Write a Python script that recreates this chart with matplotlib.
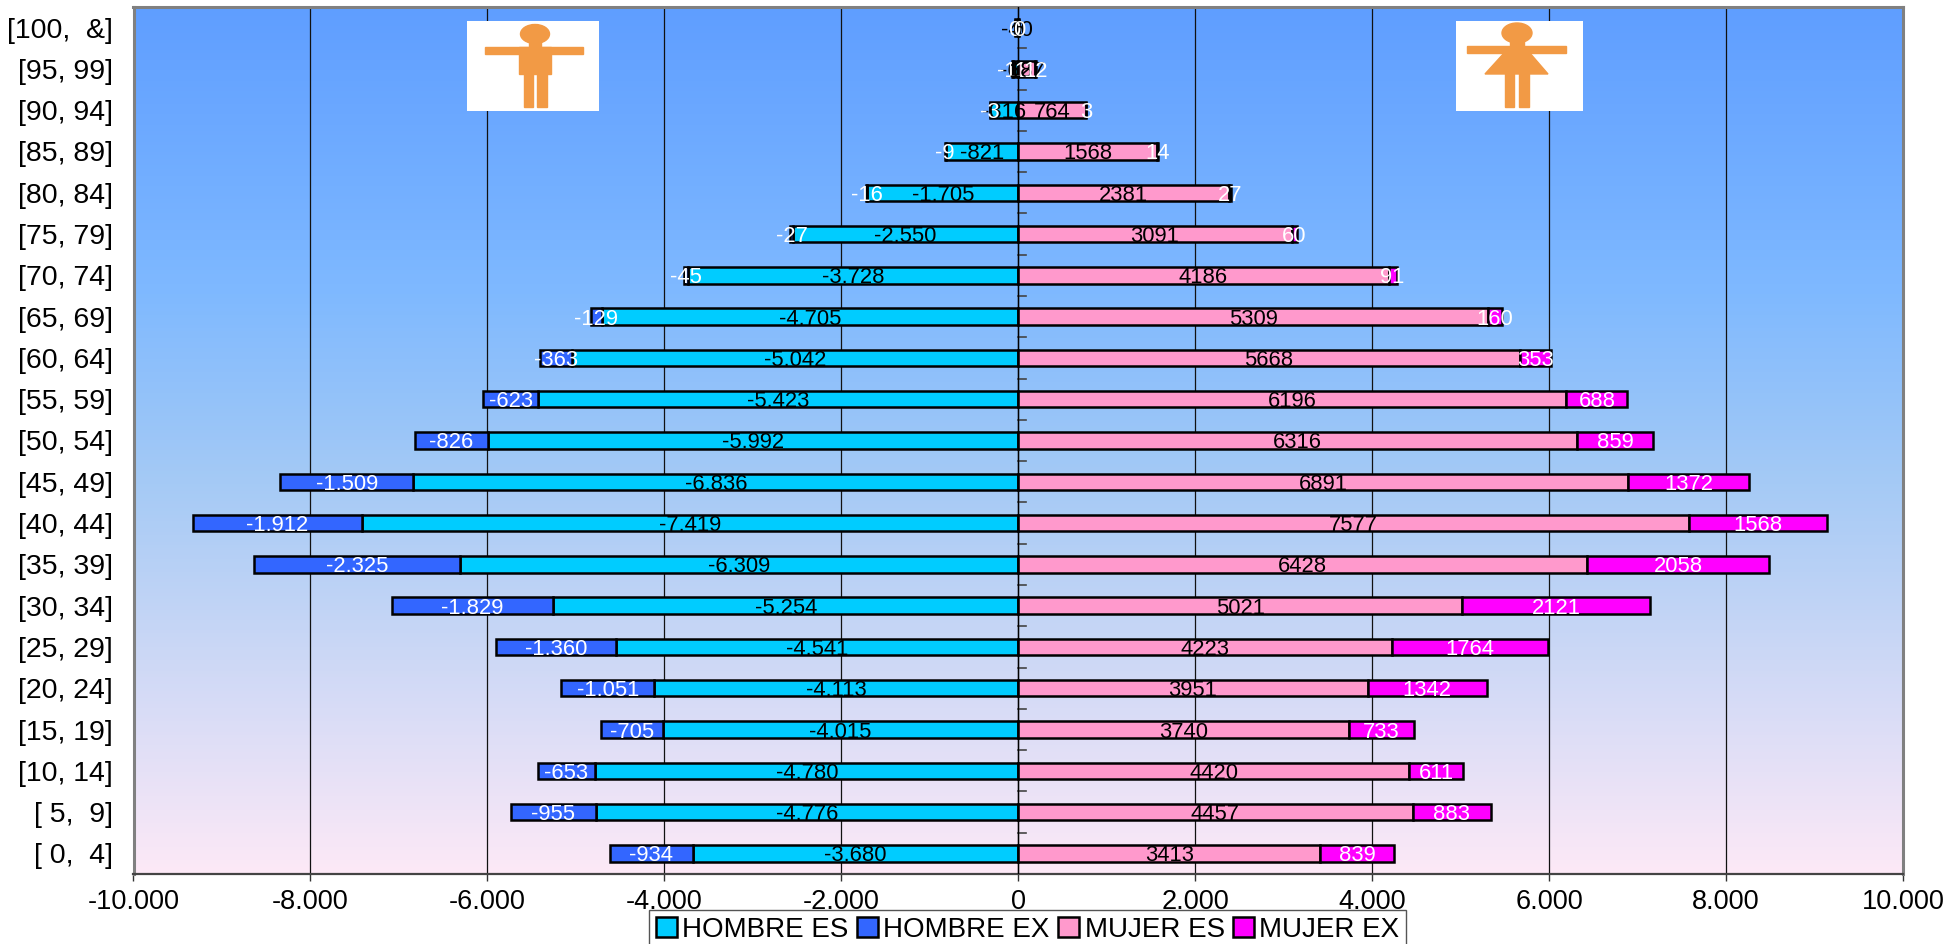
import numpy as np
import matplotlib
matplotlib.use("Agg")
import matplotlib.pyplot as plt
from matplotlib.patches import Rectangle, Polygon, Ellipse
from matplotlib.colors import LinearSegmentedColormap

plt.rcParams['font.family'] = ['Liberation Sans', 'DejaVu Sans']

W, H = 1959, 944

grupos = ['[ 0,  4]', '[ 5,  9]', '[10, 14]', '[15, 19]', '[20, 24]', '[25, 29]', '[30, 34]',
          '[35, 39]', '[40, 44]', '[45, 49]', '[50, 54]', '[55, 59]', '[60, 64]', '[65, 69]',
          '[70, 74]', '[75, 79]', '[80, 84]', '[85, 89]', '[90, 94]', '[95, 99]', '[100,  &]']

hombre_es = [-3680, -4776, -4780, -4015, -4113, -4541, -5254, -6309, -7419, -6836, -5992,
             -5423, -5042, -4705, -3728, -2550, -1705, -821, -316, -62, -40]
hombre_ex = [-934, -955, -653, -705, -1051, -1360, -1829, -2325, -1912, -1509, -826,
             -623, -363, -129, -45, -27, -16, -9, -3, -11, 0]
mujer_es = [3413, 4457, 4420, 3740, 3951, 4223, 5021, 6428, 7577, 6891, 6316,
            6196, 5668, 5309, 4186, 3091, 2381, 1568, 764, 187, 6]
mujer_ex = [839, 883, 611, 733, 1342, 1764, 2121, 2058, 1568, 1372, 859,
            688, 353, 160, 91, 60, 27, 14, 3, 12, 0]

x_ticks = [-10000, -8000, -6000, -4000, -2000, 0, 2000, 4000, 6000, 8000, 10000]

c_hes, c_hex, c_mes, c_mex = '#00CCFF', '#3366FF', '#FF99CC', '#FF00FF'


def miles(v):
    return f'{v:,}'.replace(',', '.')


fig = plt.figure(figsize=(W / 100, H / 100), dpi=100)
ax = fig.add_axes([133.5 / W, 1 - 874 / H, (1903 - 133.5) / W, (874 - 7) / H])

grad = LinearSegmentedColormap.from_list('fondo', [(0, '#5F9EFF'), (0.33, '#7FB9FF'), (0.55, '#A5CAF5'), (1, '#FDE9F7')])
ax.imshow(np.linspace(0, 1, 256).reshape(-1, 1), cmap=grad, aspect='auto',
          extent=(-10000, 10000, -0.5, 20.5), zorder=0)

y = np.arange(len(grupos))
ax.set_xlim(-10000, 10000)
ax.set_ylim(-0.5, 20.5)
ax.grid(axis='x', color='#111111', lw=0.9, zorder=1)

alto = 0.4
kw = dict(height=alto, edgecolor='black', linewidth=1.8, zorder=3)
ax.barh(y, hombre_es, color=c_hes, label='HOMBRE ES', **kw)
ax.barh(y, hombre_ex, left=hombre_es, color=c_hex, label='HOMBRE EX', **kw)
ax.barh(y, mujer_es, color=c_mes, label='MUJER ES', **kw)
ax.barh(y, mujer_ex, left=mujer_es, color=c_mex, label='MUJER EX', **kw)

fs = 15.8
tk = dict(ha='center', va='center_baseline', fontsize=fs, zorder=5)
for i in y:
    ax.text(hombre_es[i] / 2, i, miles(hombre_es[i]), color='black', **tk)
    ax.text(hombre_es[i] + hombre_ex[i] / 2, i, miles(hombre_ex[i]), color='white', **tk)
    ax.text(mujer_es[i] / 2, i, str(mujer_es[i]), color='black', **tk)
    ax.text(mujer_es[i] + mujer_ex[i] / 2, i, str(mujer_ex[i]), color='white', **tk)

# eje vertical en el cero con sus marcas
ax.axvline(0, color='black', lw=1.0, zorder=4)
for v in y[:-1] + 0.5:
    ax.plot([0, 90], [v, v], color='#444444', lw=1.2, zorder=2)

ax.set_xticks(x_ticks)
ax.set_xticklabels([miles(v) for v in x_ticks], fontsize=19.5)
ax.set_yticks(y)
ax.set_yticklabels(grupos, fontsize=20.5)
ax.tick_params(axis='y', length=0, pad=15)
ax.tick_params(axis='x', length=5, width=1, pad=6, color='#333333')
for s in ax.spines.values():
    s.set_color('#808080')
    s.set_linewidth(2.2)
ax.spines['bottom'].set_color('#444444')
ax.spines['bottom'].set_linewidth(1.6)


def icono(x0, x1, y0, y1):
    a = fig.add_axes([x0 / W, 1 - y1 / H, (x1 - x0) / W, (y1 - y0) / H], zorder=6)
    a.set_xlim(x0, x1)
    a.set_ylim(y1, y0)
    a.set_xticks([])
    a.set_yticks([])
    a.set_facecolor('white')
    for s in a.spines.values():
        s.set_visible(False)
    return a


naranja = '#F29A45'
a = icono(467, 599, 21, 111)
a.add_patch(Ellipse((535, 34), 29, 19, color=naranja))
a.add_patch(Rectangle((529, 40), 12, 8, color=naranja))
a.add_patch(Rectangle((485, 47), 98, 7, color=naranja))
a.add_patch(Rectangle((519, 47), 32, 27, color=naranja))
a.add_patch(Rectangle((524, 72), 9, 35, color=naranja))
a.add_patch(Rectangle((537, 72), 10, 35, color=naranja))

a = icono(1456, 1583, 21, 111)
a.add_patch(Ellipse((1517, 33), 30, 20, color=naranja))
a.add_patch(Rectangle((1510, 40), 14, 8, color=naranja))
a.add_patch(Rectangle((1467, 46), 99, 7, color=naranja))
a.add_patch(Polygon([(1505, 52), (1529, 52), (1548, 74), (1485, 74)], color=naranja))
a.add_patch(Rectangle((1505, 72), 9, 35, color=naranja))
a.add_patch(Rectangle((1519, 72), 10, 35, color=naranja))

leg = fig.legend(loc='lower left', bbox_to_anchor=(649 / W, -0.006), ncol=4, fontsize=20, frameon=True,
                 fancybox=False, edgecolor='#555555', framealpha=1, handlelength=0.75, handleheight=0.75,
                 handletextpad=0.2, columnspacing=0.3, borderpad=0.25, borderaxespad=0)
leg.set_zorder(10)

fig.savefig('out.png', dpi=100)
